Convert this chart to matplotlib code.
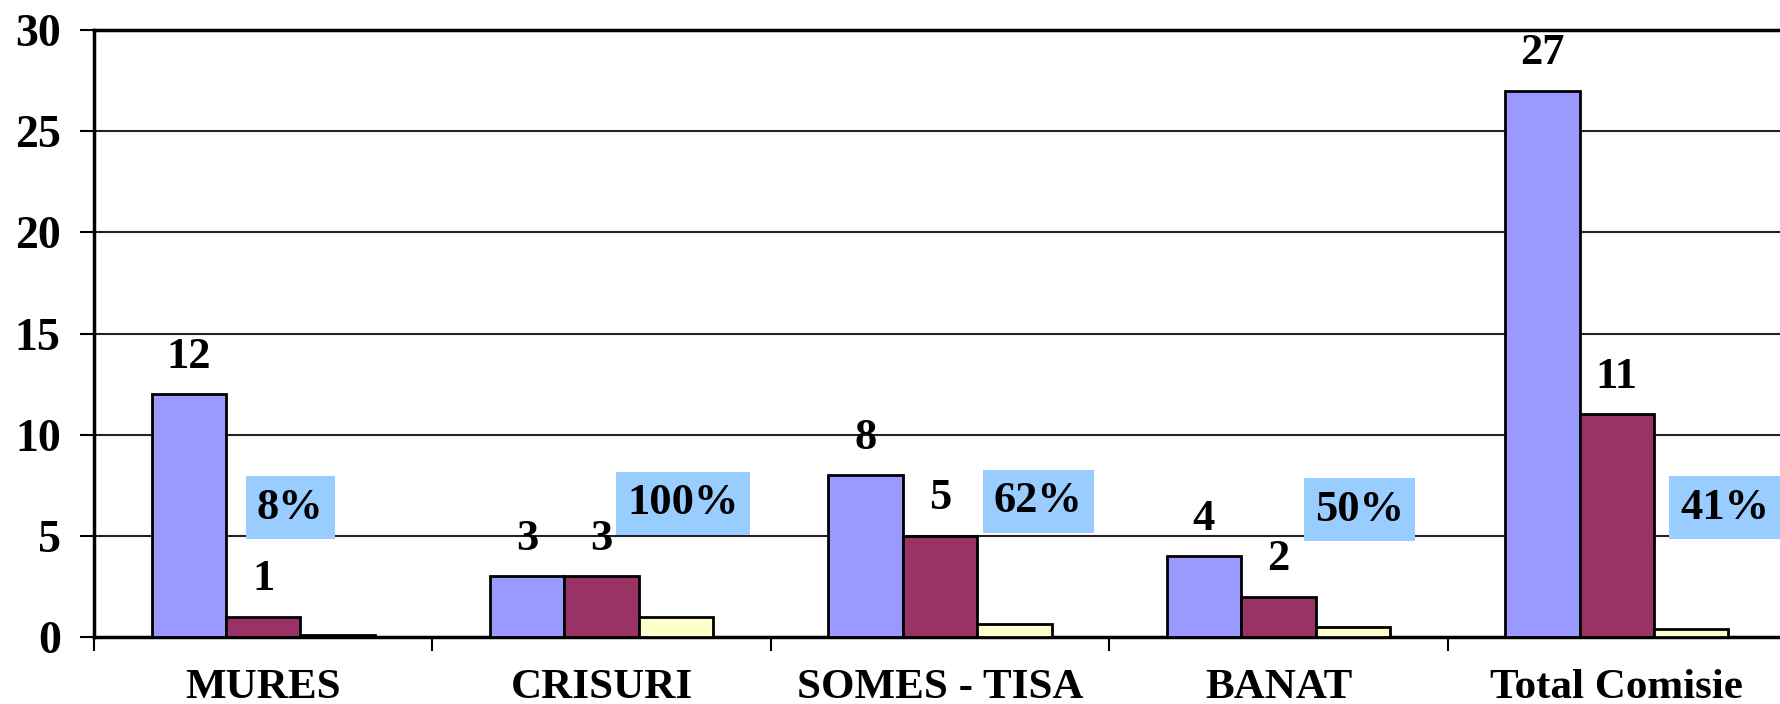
import matplotlib.pyplot as plt
import numpy as np

categories = ['MURES', 'CRISURI', 'SOMES - TISA', 'BANAT', 'Total Comisie']
series_a = [12, 3, 8, 4, 27]
series_b = [1, 3, 5, 2, 11]
ratio = [0.08, 1.00, 0.62, 0.50, 0.41]
pct_labels = ['8%', '100%', '62%', '50%', '41%']
y_ticks = [0, 5, 10, 15, 20, 25, 30]

# manual nudges of the percent boxes (fraction of a category, data units)
pct_dx = [-0.14, 0.02, 0.07, 0.02, 0.10]
pct_y = [6.4, 6.6, 6.7, 6.3, 6.4]

plt.rcParams['font.family'] = ['Liberation Serif', 'DejaVu Serif']
plt.rcParams['font.weight'] = 'bold'

fig = plt.figure(figsize=(17.81, 7.04), dpi=100)
ax = fig.add_axes([94 / 1781, 67 / 704, (1786 - 94) / 1781, (637 - 30) / 704])

x = np.arange(len(categories))
w = 0.22
ax.bar(x - w, series_a, w, color='#9999FF', edgecolor='black', linewidth=2, zorder=3)
ax.bar(x, series_b, w, color='#993366', edgecolor='black', linewidth=2, zorder=3)
ax.bar(x + w, ratio, w, color='#FFFFCC', edgecolor='black', linewidth=2, zorder=3)

for i in range(len(categories)):
    ax.annotate(str(series_a[i]), (x[i] - w, series_a[i]), xytext=(0, 27),
                textcoords='offset points', ha='center', va='center',
                fontsize=32, fontweight='bold')
    ax.annotate(str(series_b[i]), (x[i], series_b[i]), xytext=(0, 27),
                textcoords='offset points', ha='center', va='center',
                fontsize=32, fontweight='bold')
    ax.text(x[i] + w + pct_dx[i], pct_y[i], pct_labels[i], ha='center', va='center',
            fontsize=32, fontweight='bold', zorder=4,
            bbox=dict(boxstyle='square,pad=0.25', facecolor='#99CCFF', edgecolor='none'))

ax.set_xlim(-0.5, 4.5)
ax.set_ylim(0, 30)
ax.set_yticks(y_ticks)
ax.set_yticklabels([str(t) for t in y_ticks], fontsize=33, fontweight='bold')
ax.tick_params(axis='y', length=10, width=1.5, pad=14)

ax.set_xticks(x)
ax.set_xticklabels(categories, fontsize=31, fontweight='bold')
ax.set_xticks(np.arange(-0.5, 5, 1), minor=True)
ax.tick_params(axis='x', which='major', length=0, pad=23)
ax.tick_params(axis='x', which='minor', length=10, width=1.5)

for yv in y_ticks[1:-1]:
    ax.axhline(yv, color='#222222', linewidth=1.5, zorder=1)

for s in ['left', 'bottom', 'top']:
    ax.spines[s].set_linewidth(2.5)
ax.spines['right'].set_visible(False)

fig.savefig('out.png', dpi=100)
